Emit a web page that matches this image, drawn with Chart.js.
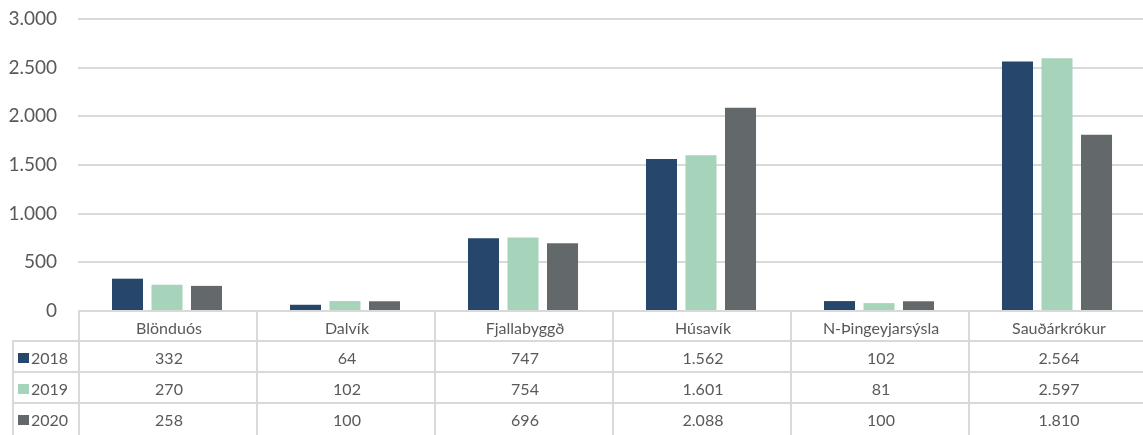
<!DOCTYPE html>
<html>
<head>
<meta charset="utf-8">
<script src="https://cdn.jsdelivr.net/npm/chart.js@4/dist/chart.umd.min.js"></script>
<style>
  html, body { margin: 0; padding: 0; background: #fff; overflow: hidden; }
  body { width: 1143px; height: 435px; position: relative; font-family: Lato, "Open Sans", sans-serif; }
  #wrap { position: absolute; left: 0; top: 0; width: 1148px; height: 330px; }
  #dataTable { position: absolute; left: 0; top: 0; }
  .cell {
    position: absolute; box-sizing: border-box; color: #595959; font-size: 16px;
    display: flex; align-items: center; justify-content: center;
    border-left: 2px solid #d9d9d9; border-top: 2px solid #d9d9d9;
  }
  .rowhead { justify-content: flex-start; padding-left: 4px; }
  .key { display: inline-block; width: 11px; height: 10px; margin-right: 2px; }
</style>
</head>
<body>
<div id="wrap"><canvas id="barChart" width="1148" height="330"></canvas></div>
<div id="dataTable"></div>

<script>
/* ================= DATA ================= */

const places = ["Blönduós", "Dalvík", "Fjallabyggð", "Húsavík", "N-Þingeyjarsýsla", "Sauðárkrókur"];
const years = ["2018", "2019", "2020"];

const values2018 = [332, 64, 747, 1562, 102, 2564];
const values2019 = [270, 102, 754, 1601, 81, 2597];
const values2020 = [258, 100, 696, 2088, 100, 1810];

const yearColors = ["#27466b", "#a6d4bb", "#63686a"];

const yTicks = [0, 500, 1000, 1500, 2000, 2500, 3000];

const TEXT = "#595959";
const GRID = "#d9d9d9";

function fmt(n) {
  return String(n).replace(/\B(?=(\d{3})+(?!\d))/g, ".");
}

/* ================= DATA TABLE UNDER THE AXIS ================= */

function buildTable(chart) {
  const box = document.getElementById("dataTable");
  box.innerHTML = "";

  const area = chart.chartArea;
  const colW = (area.right - area.left) / places.length;
  const top = area.bottom;
  const headH = 30;
  const rowH = 31;
  const leftX = 12;

  const add = (x, y, w, h, html, cls) => {
    const d = document.createElement("div");
    d.className = "cell" + (cls ? " " + cls : "");
    d.style.left = x + "px";
    d.style.top = y + "px";
    d.style.width = w + 2 + "px";
    d.style.height = h + 2 + "px";
    d.innerHTML = html;
    box.appendChild(d);
    return d;
  };

  // header row: category names
  places.forEach((p, i) => {
    add(area.left + i * colW, top - 1, colW, headH, p);
  });

  const series = [values2018, values2019, values2020];
  series.forEach((vals, r) => {
    const y = top - 1 + headH + r * rowH;
    add(leftX, y, area.left - leftX, rowH,
      `<span class="key" style="background:${yearColors[r]}"></span>${years[r]}`, "rowhead");
    vals.forEach((v, i) => {
      add(area.left + i * colW, y, colW, rowH, fmt(v));
    });
  });
}

/* ================= BAR CHART ================= */

const tablePlugin = {
  id: "dataTablePlugin",
  afterRender(chart) {
    if (!chart._tableDone) {
      buildTable(chart);
      chart._tableDone = true;
    }
  }
};

const barChart = new Chart(document.getElementById("barChart"), {
  type: "bar",
  data: {
    labels: places,
    datasets: [
      { label: years[0], data: values2018, backgroundColor: yearColors[0] },
      { label: years[1], data: values2019, backgroundColor: yearColors[1] },
      { label: years[2], data: values2020, backgroundColor: yearColors[2] }
    ]
  },
  options: {
    responsive: false,
    animation: false,
    layout: { padding: { top: 19, bottom: 19, left: 0, right: 2 } },
    datasets: {
      bar: { categoryPercentage: 0.666, barPercentage: 0.785 }
    },
    plugins: {
      legend: { display: false },
      tooltip: { enabled: false }
    },
    scales: {
      x: {
        display: false
      },
      y: {
        min: 0,
        max: 3000,
        afterBuildTicks: (scale) => {
          scale.ticks = yTicks.map(v => ({ value: v }));
        },
        afterFit: (scale) => {
          // fixed axis width, and no extra room above/below for the labels
          scale.width = 78;
          scale.paddingTop = 0;
          scale.paddingBottom = 0;
        },
        border: { display: false },
        grid: { color: GRID, lineWidth: 2, drawTicks: false },
        ticks: {
          color: TEXT,
          padding: 21,
          font: { family: "Lato", size: 19 },
          callback: (v) => fmt(v)
        }
      }
    }
  },
  plugins: [tablePlugin]
});
</script>
</body>
</html>
